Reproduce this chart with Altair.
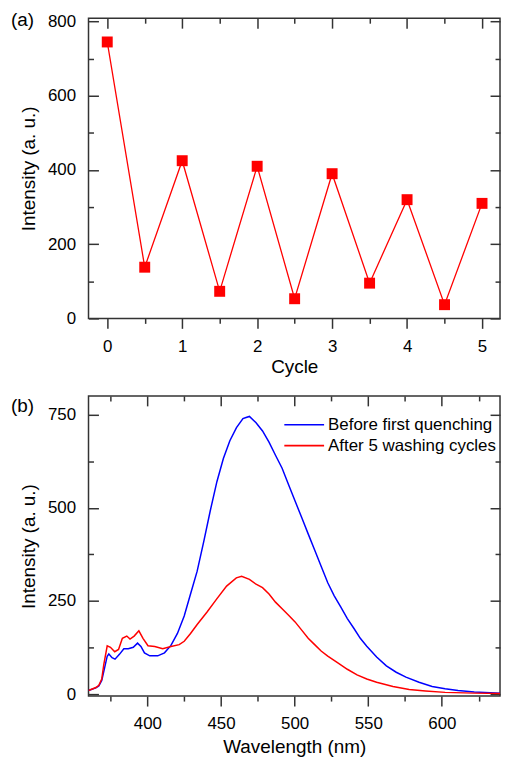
import altair as alt
import pandas as pd

# ---------------- data ----------------
cycle = [0, 0.5, 1, 1.5, 2, 2.5, 3, 3.5, 4, 4.5, 5]
cycle_intensity = [745, 138, 425, 73, 410, 53, 390, 95, 320, 37, 310]

wl_before = [360, 365, 367, 369, 371, 372.7, 373.8, 376, 378, 381, 384, 387, 390.4,
             393.3, 395.6, 398, 401.6, 407, 411.6, 416, 420.4, 425, 429, 433.8,
             438.3, 442.7, 447.2, 451.6, 456, 460.5, 464.9, 467, 469.3, 473.8,
             478.2, 482.6, 487, 491.5, 495.9, 500.3, 504.8, 509.2, 513.6, 518,
             522.5, 526.9, 531.3, 535.8, 540.2, 544.6, 549, 555.7, 562.3, 569,
             575.6, 584.5, 593.4, 602.2, 611, 622, 640]
int_before = [10, 17, 22, 37, 72, 102, 108, 98, 94, 107, 122, 122, 126,
              137, 128, 111, 103, 103, 111, 131, 163, 210, 265, 330,
              410, 492, 570, 632, 680, 715, 739, 742, 745, 728,
              706, 676, 641, 606, 562, 518, 474, 430, 387, 343,
              299, 264, 234, 203, 177, 150, 129, 100, 76, 59,
              46, 32, 21, 15, 10, 6, 3]

wl_after = [360, 365, 367, 369, 370.4, 372.7, 374.9, 377.8, 380.4, 383, 386, 388.2,
            391, 394.2, 397, 400.4, 405, 410.4, 416, 421.6, 425, 429.3, 433.8,
            440.4, 447, 453.8, 460.4, 464, 469.3, 473.8, 478.2, 482.6, 487,
            491.5, 495.9, 500.3, 504.8, 509.2, 513.6, 518, 522.5, 529.1, 535.8,
            542.4, 549, 555.7, 566.8, 577.8, 588.9, 602.2, 622, 640]
int_after = [10, 18, 24, 41, 80, 130, 126, 114, 120, 150, 156, 148,
             156, 170, 150, 130, 128, 122, 128, 133, 142, 163, 187,
             220, 255, 290, 312, 316, 308, 295, 286, 269, 247,
             229, 212, 194, 172, 150, 133, 116, 102, 85, 67,
             52, 41, 32, 21, 13, 9, 5, 3, 2]

series_names = ["Before first quenching", "After 5 washing cycles"]
series_colors = ["#0000ff", "#ff0000"]
panel_labels = ["(a)", "(b)"]

a_x_major = [0, 1, 2, 3, 4, 5]
a_x_minor = [0.5, 1.5, 2.5, 3.5, 4.5]
a_y_major = [0, 200, 400, 600, 800]
a_y_minor = [100, 300, 500, 700]
b_x_major = [400, 450, 500, 550, 600]
b_x_minor = [375, 425, 475, 525, 575, 625]
b_y_major = [0, 250, 500, 750]
b_y_minor = [125, 375, 625]

# ---------------- style ----------------
FONT = "Liberation Sans"
TICK_COLOR = "#333333"
MAJOR = 10
MINOR = 5
W = 414


def ax(orient, values, size, labels=False, title=None, label_padding=0,
       title_padding=0, offset=0):
    kw = dict(orient=orient, values=values, tickSize=size, tickColor=TICK_COLOR,
              tickWidth=1.5, domain=False, grid=False, labels=labels,
              offset=offset, title=title, minExtent=0)
    if labels:
        kw.update(labelFont=FONT, labelFontSize=17, labelColor="black",
                  labelPadding=label_padding, labelOverlap=False)
    if title:
        kw.update(titleFont=FONT, titleFontSize=19, titleFontWeight="normal",
                  titleColor="black", titlePadding=title_padding)
    return alt.Axis(**kw)


# ---------------- panel (a) ----------------
dfa = pd.DataFrame({"Cycle": cycle, "Intensity": cycle_intensity})
xs_a = alt.Scale(domain=[-0.25, 5.24], nice=False, zero=False)
ys_a = alt.Scale(domain=[0, 809], nice=False)
base_a = alt.Chart(dfa)
empty_a = base_a.transform_filter("false")

a1 = base_a.mark_line(color="#ff0000", strokeWidth=1.3).encode(
    x=alt.X("Cycle:Q", scale=xs_a,
            axis=ax("bottom", a_x_major, MAJOR, labels=True, title="Cycle",
                    label_padding=10, title_padding=3)),
    y=alt.Y("Intensity:Q", scale=ys_a,
            axis=ax("left", a_y_major, MAJOR, labels=True,
                    title="Intensity (a. u.)", label_padding=13,
                    title_padding=9, offset=-MAJOR)),
)
a2 = base_a.mark_square(color="#ff0000", size=121, opacity=1).encode(
    x=alt.X("Cycle:Q", scale=xs_a, axis=ax("bottom", a_x_minor, MINOR)),
    y=alt.Y("Intensity:Q", scale=ys_a,
            axis=ax("left", a_y_minor, MINOR, offset=-MINOR)),
)
a3 = empty_a.mark_point().encode(
    x=alt.X("Cycle:Q", scale=xs_a,
            axis=ax("top", a_x_major, MAJOR, offset=-MAJOR)),
    y=alt.Y("Intensity:Q", scale=ys_a,
            axis=ax("right", a_y_major, MAJOR, offset=-MAJOR)),
)
a4 = empty_a.mark_point().encode(
    x=alt.X("Cycle:Q", scale=xs_a,
            axis=ax("top", a_x_minor, MINOR, offset=-MINOR)),
    y=alt.Y("Intensity:Q", scale=ys_a,
            axis=ax("right", a_y_minor, MINOR, offset=-MINOR)),
)
a5 = alt.Chart(pd.DataFrame({"lab": [panel_labels[0]]})).mark_text(
    align="left", baseline="middle", font=FONT, fontSize=19, color="black"
).encode(text="lab:N", x=alt.value(-78), y=alt.value(2))

panel_a = alt.layer(a1, a2, a3, a4, a5).resolve_axis(
    x="independent", y="independent").properties(width=W, height=302)

# ---------------- panel (b) ----------------
dfb = pd.concat([
    pd.DataFrame({"Wavelength": wl_before, "Intensity": int_before,
                  "Series": series_names[0]}),
    pd.DataFrame({"Wavelength": wl_after, "Intensity": int_after,
                  "Series": series_names[1]}),
], ignore_index=True)
xs_b = alt.Scale(domain=[360, 639.5], nice=False, zero=False)
ys_b = alt.Scale(domain=[-5, 800], nice=False)
base_b = alt.Chart(dfb)
empty_b = base_b.transform_filter("false")

b1 = base_b.mark_line(strokeWidth=1.5, clip=True).encode(
    x=alt.X("Wavelength:Q", scale=xs_b,
            axis=ax("bottom", b_x_major, MAJOR, labels=True,
                    title="Wavelength (nm)", label_padding=10, title_padding=6)),
    y=alt.Y("Intensity:Q", scale=ys_b,
            axis=ax("left", b_y_major, MAJOR, labels=True,
                    title="Intensity (a. u.)", label_padding=13,
                    title_padding=9, offset=-MAJOR)),
    color=alt.Color("Series:N",
                    scale=alt.Scale(domain=series_names, range=series_colors),
                    legend=alt.Legend(orient="none", legendX=206, legendY=18,
                                      title=None, symbolType="M-2,0L2,0",
                                      symbolSize=400, symbolStrokeWidth=1.6,
                                      labelFont=FONT, labelFontSize=17,
                                      labelColor="black", labelOffset=13,
                                      labelLimit=400, rowPadding=2, padding=0)),
)
b2 = empty_b.mark_point().encode(
    x=alt.X("Wavelength:Q", scale=xs_b, axis=ax("bottom", b_x_minor, MINOR)),
    y=alt.Y("Intensity:Q", scale=ys_b,
            axis=ax("left", b_y_minor, MINOR, offset=-MINOR)),
)
b3 = empty_b.mark_point().encode(
    x=alt.X("Wavelength:Q", scale=xs_b,
            axis=ax("top", b_x_major, MAJOR, offset=-MAJOR)),
    y=alt.Y("Intensity:Q", scale=ys_b,
            axis=ax("right", b_y_major, MAJOR, offset=-MAJOR)),
)
b4 = empty_b.mark_point().encode(
    x=alt.X("Wavelength:Q", scale=xs_b,
            axis=ax("top", b_x_minor, MINOR, offset=-MINOR)),
    y=alt.Y("Intensity:Q", scale=ys_b,
            axis=ax("right", b_y_minor, MINOR, offset=-MINOR)),
)
b5 = alt.Chart(pd.DataFrame({"lab": [panel_labels[1]]})).mark_text(
    align="left", baseline="middle", font=FONT, fontSize=19, color="black"
).encode(text="lab:N", x=alt.value(-78), y=alt.value(10))

panel_b = alt.layer(b1, b2, b3, b4, b5).resolve_axis(
    x="independent", y="independent").properties(width=W, height=302)

chart = alt.vconcat(panel_a, panel_b, spacing=17).resolve_scale(
    color="independent"
).properties(
    padding={"left": 2, "top": 0, "right": 0, "bottom": 0},
    background="white",
).configure_view(stroke=TICK_COLOR, strokeWidth=1.5)

chart.save("out.html", embed_options={"renderer": "svg", "actions": False})
